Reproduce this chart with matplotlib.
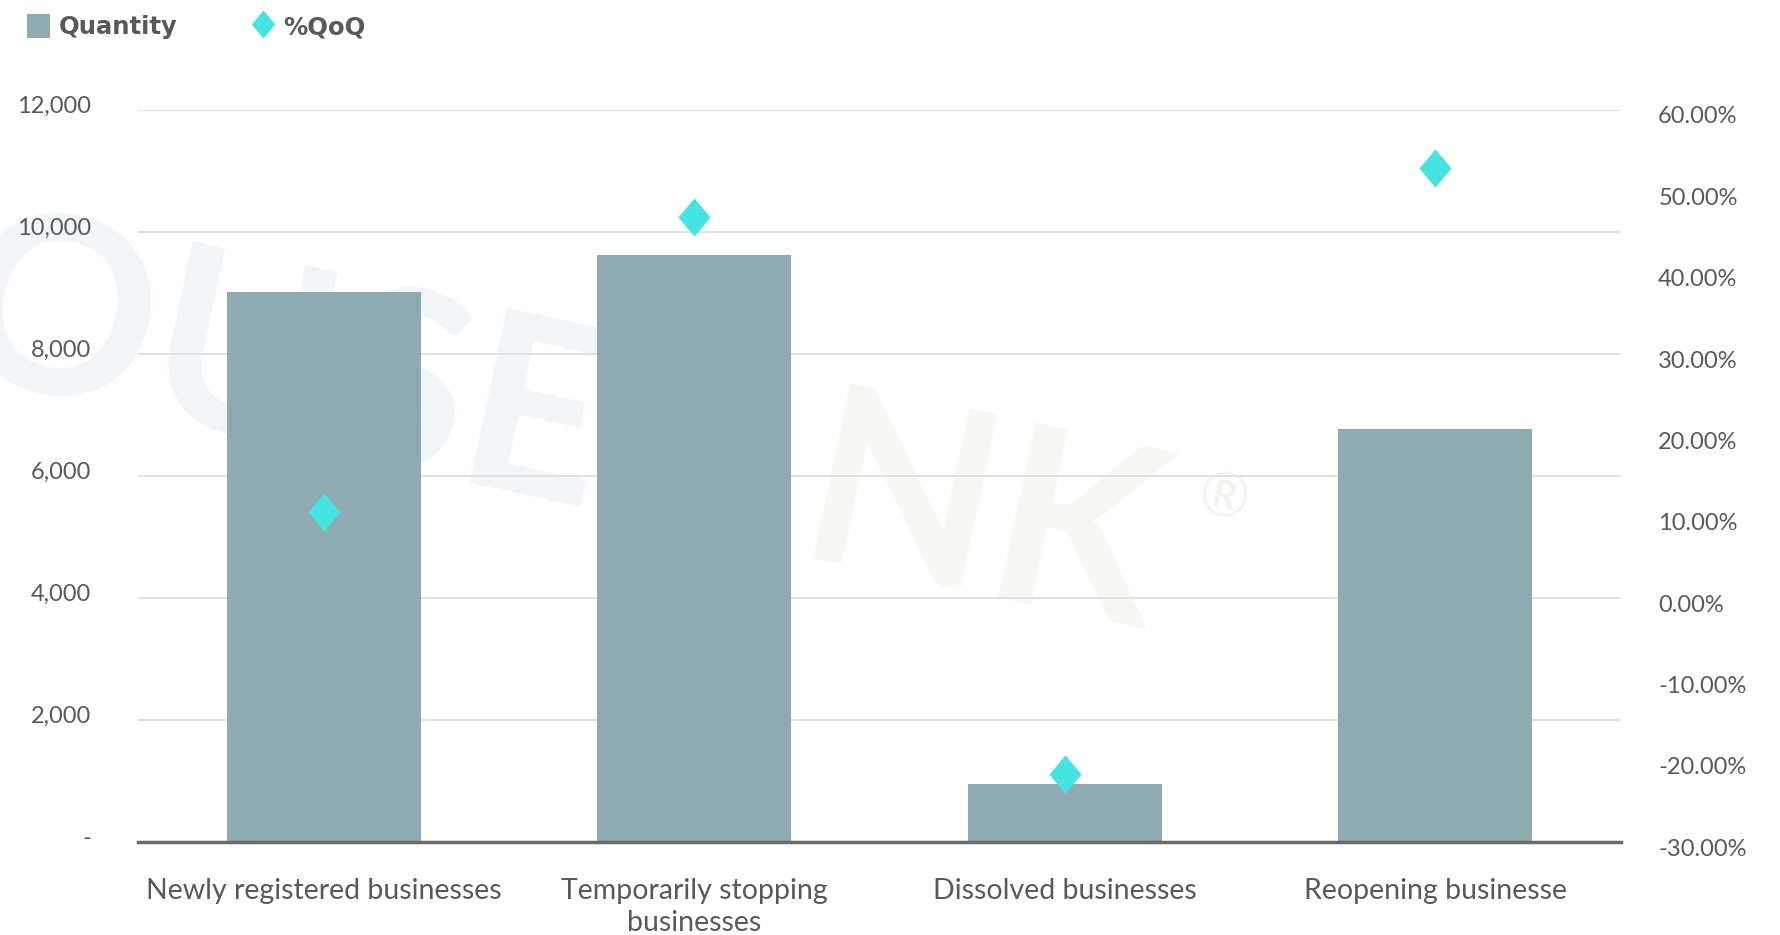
import numpy as np
import matplotlib.pyplot as plt
from matplotlib.patches import Patch
from matplotlib.lines import Line2D
from matplotlib.path import Path
from matplotlib.transforms import ScaledTranslation
from matplotlib.ticker import FuncFormatter

plt.rcParams['font.family'] = ['Lato', 'DejaVu Sans']

categories = ['Newly registered businesses', 'Temporarily stopping\nbusinesses',
              'Dissolved businesses', 'Reopening businesse']
quantity = [9020, 9620, 960, 6770]
qoq = [0.106, 0.468, -0.216, 0.529]

bar_color = '#8eabb2'
dia_color = '#45e3e3'
text_color = '#595959'

# slightly tall diamond marker
diamond = Path([(0, 1), (0.84, 0), (0, -1), (-0.84, 0), (0, 1)],
               [Path.MOVETO, Path.LINETO, Path.LINETO, Path.LINETO, Path.CLOSEPOLY])

fig = plt.figure(figsize=(17.8, 9.35), dpi=100)

# faint watermark behind the plot
wm = dict(fontsize=178, fontweight='bold', rotation=-12, rotation_mode='anchor',
          va='baseline', zorder=-5)
fig.text(590 / 1780, 1 - 510 / 935, 'OUSE', color='#f3f6f9', ha='right', **wm)
fig.text(650 / 1780, 1 - 525 / 935, 'I', color='#f8f8f4', ha='left', **wm)
fig.text(792 / 1780, 1 - 558 / 935, 'NK', color='#f8f8f4', ha='left', **wm)
fig.text(1223 / 1780, 1 - 500 / 935, '®', fontsize=44, color='#f4f4f0',
         rotation=-12, ha='center', va='center', zorder=-5)

ax = fig.add_axes([0.0777, 0.0991, 0.8328, 0.7833])
ax.patch.set_alpha(0)
x = np.arange(len(categories))
ax.bar(x, quantity, width=0.5235, color=bar_color, zorder=2)
ax.set_xlim(-0.5, 3.5)
ax.set_ylim(0, 12000)
ax.set_yticks(np.arange(0, 12001, 2000))
ax.yaxis.set_major_formatter(FuncFormatter(lambda v, p: '-' if v == 0 else f'{v:,.0f}'))
ax.grid(axis='y', color='#e2e2e2', linewidth=1.5, zorder=1)
ax.set_axisbelow(True)
ax.set_xticks(x)
ax.set_xticklabels(categories, fontsize=20.5, color=text_color, linespacing=1.28)
ax.tick_params(axis='x', length=0, pad=26)
ax.tick_params(axis='y', length=0, pad=34, labelsize=17, labelcolor=text_color)
for s in ['top', 'right', 'left']:
    ax.spines[s].set_visible(False)
ax.spines['bottom'].set_color('#6b6b6b')
ax.spines['bottom'].set_linewidth(2.5)
ax.spines['bottom'].set_zorder(3)

ax2 = ax.twinx()
ax2.scatter(x, qoq, marker=diamond, s=27.5 ** 2, color=dia_color, zorder=4, linewidths=0)
ax2.set_ylim(-0.3, 0.6)
ax2.set_yticks(np.arange(-0.3, 0.61, 0.1))
ax2.yaxis.set_major_formatter(FuncFormatter(lambda v, p: f'{v * 100:.2f}%'))
ax2.tick_params(axis='y', length=0, pad=27, labelsize=17, labelcolor=text_color)
for s in ax2.spines.values():
    s.set_visible(False)

up = ScaledTranslation(0, 6 / 100, fig.dpi_scale_trans)
down = ScaledTranslation(0, -5 / 100, fig.dpi_scale_trans)
for lab in ax.get_yticklabels():
    lab.set_transform(lab.get_transform() + up)
for lab in ax2.get_yticklabels():
    lab.set_transform(lab.get_transform() + down)

handles = [Patch(facecolor=bar_color, edgecolor='none', label='Quantity'),
           Line2D([], [], marker=diamond, linestyle='none', markersize=20,
                  markerfacecolor=dia_color, markeredgewidth=0, label='%QoQ')]
leg = fig.legend(handles=handles, loc='upper left', bbox_to_anchor=(27 / 1780, 1 - 14 / 935),
                 ncol=2, frameon=False, borderpad=0, borderaxespad=0,
                 handlelength=0.93, handleheight=1.12, handletextpad=0.38,
                 columnspacing=3.05,
                 prop={'family': 'DejaVu Sans', 'size': 17.5, 'weight': 'bold'})
for t in leg.get_texts():
    t.set_color(text_color)

fig.savefig('out.png', dpi=100)
